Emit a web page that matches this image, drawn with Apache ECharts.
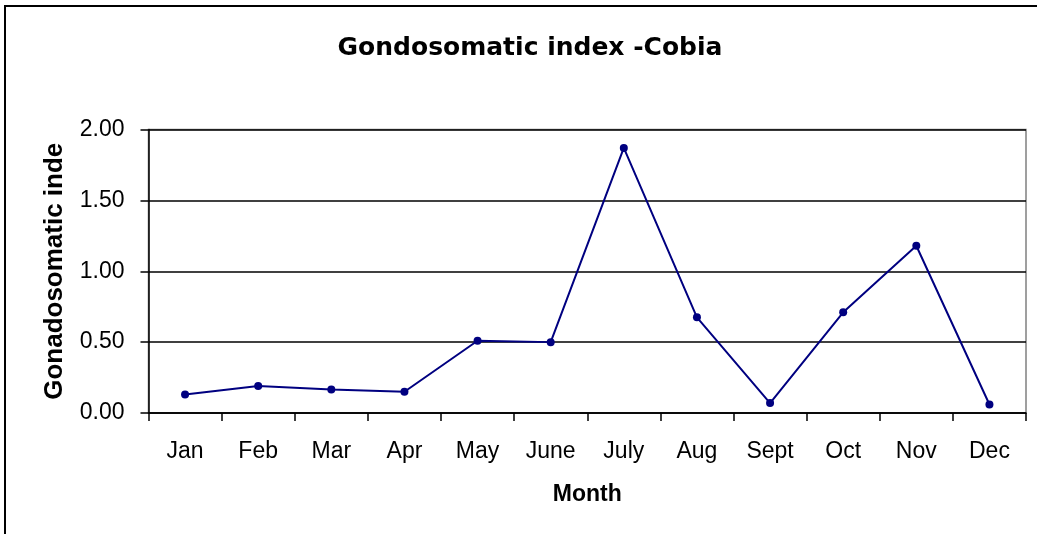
<!DOCTYPE html>
<html>
<head>
<meta charset="utf-8">
<script src="https://cdn.jsdelivr.net/npm/echarts@6/dist/echarts.min.js"></script>
<style>
html,body{margin:0;padding:0;background:#fff;}
#chart{width:1037px;height:534px;}
</style>
</head>
<body>
<div id="chart"></div>
<script>
var months = ['Jan','Feb','Mar','Apr','May','June','July','Aug','Sept','Oct','Nov','Dec'];
var gsiValues = [0.13, 0.19, 0.165, 0.15, 0.51, 0.50, 1.87, 0.675, 0.07, 0.71, 1.18, 0.06];
var yTicks = [0, 0.5, 1.0, 1.5, 2.0];

var chart = echarts.init(document.getElementById('chart'), null, {renderer:'canvas'});
var option = {
  animation: false,
  backgroundColor: '#fff',
  title: {
    text: 'Gondosomatic index -Cobia',
    left: 525,
    top: 31,
    textAlign: 'center',
    textStyle: {fontFamily: 'DejaVu Sans', fontWeight: 'bold', fontSize: 25, color: '#000'}
  },
  grid: {
    left: 148.5, right: 11, top: 129.5, bottom: 121,
    show: true, borderColor: '#808080', borderWidth: 1.5, backgroundColor: '#fff'
  },
  xAxis: {
    type: 'category',
    data: months,
    boundaryGap: true,
    name: 'Month',
    nameLocation: 'middle',
    nameGap: 70,
    nameTextStyle: {fontFamily: 'Liberation Sans', fontWeight: 'bold', fontSize: 23, color: '#000'},
    axisLine: {show: true, lineStyle: {color: '#000', width: 1.5}},
    axisTick: {show: true, alignWithLabel: false, length: 8, lineStyle: {color: '#000', width: 1.5}},
    axisLabel: {margin: 27, fontFamily: 'Liberation Sans', fontSize: 23, color: '#000'},
    splitLine: {show: false}
  },
  yAxis: {
    type: 'value',
    min: yTicks[0],
    max: yTicks[yTicks.length - 1],
    interval: 0.5,
    name: 'Gonadosomatic inde',
    nameLocation: 'middle',
    nameGap: 81,
    nameRotate: 90,
    nameTextStyle: {fontFamily: 'Liberation Sans', fontWeight: 'bold', fontSize: 26, color: '#000'},
    axisLine: {show: true, lineStyle: {color: '#000', width: 1.5}},
    axisTick: {show: true, length: 8, lineStyle: {color: '#000', width: 1.5}},
    axisLabel: {
      margin: 24, fontFamily: 'Liberation Sans', fontSize: 23, color: '#000',
      formatter: function (v) { return v.toFixed(2); }
    },
    splitLine: {show: true, lineStyle: {color: '#000', width: 1.5}}
  },
  graphic: [{
    type: 'rect',
    shape: {x: 5, y: 6, width: 1200, height: 700},
    style: {fill: 'none', stroke: '#000', lineWidth: 2},
    silent: true, z: 100
  }],
  series: [{
    type: 'line',
    data: gsiValues,
    symbol: 'circle',
    symbolSize: 8,
    itemStyle: {color: '#000080'},
    lineStyle: {color: '#000080', width: 2},
    z: 5
  }]
};
chart.setOption(option);
</script>
</body>
</html>
